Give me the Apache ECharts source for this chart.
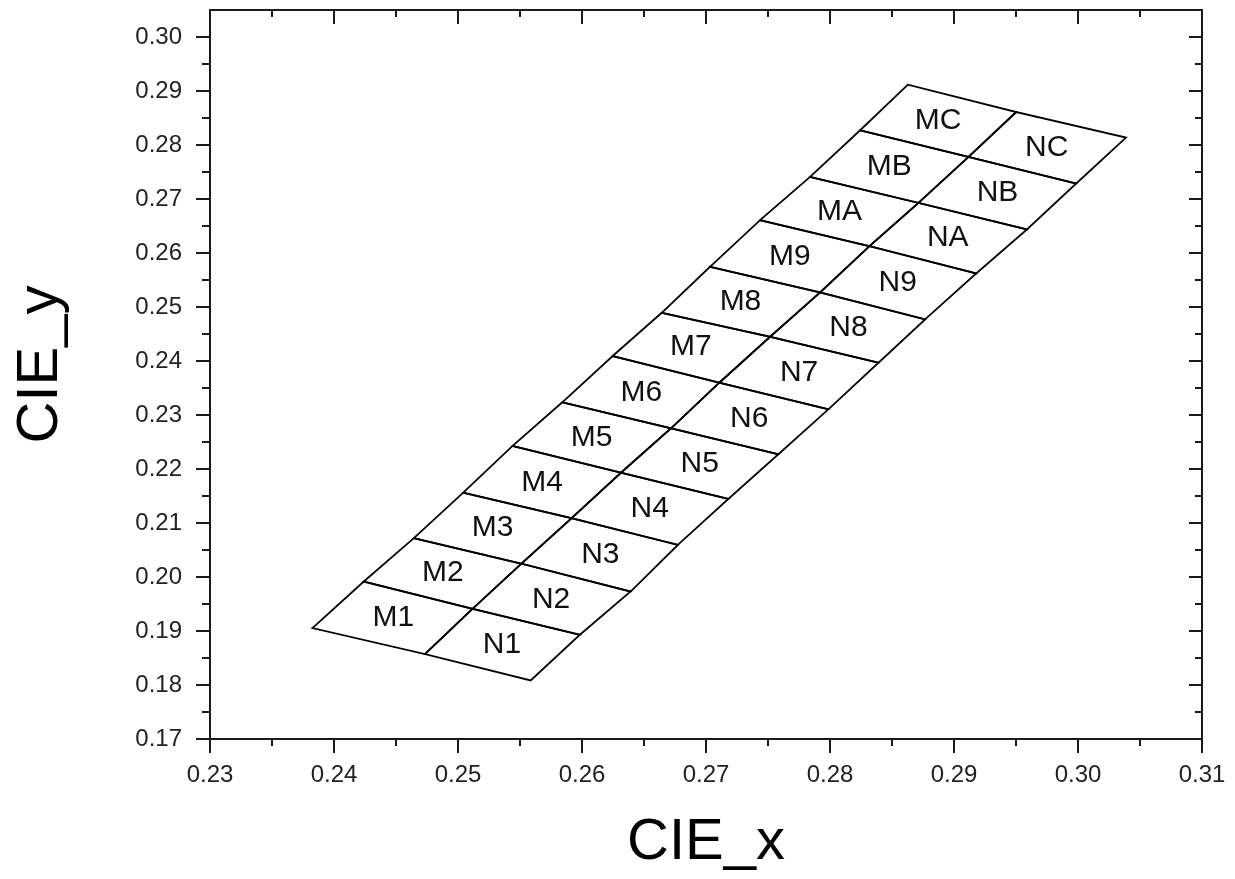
<!DOCTYPE html>
<html>
<head>
<meta charset="utf-8">
<script src="https://cdn.jsdelivr.net/npm/echarts@6/dist/echarts.min.js"></script>
<style>
    html, body { margin: 0; padding: 0; background: #fff; }
    #chart { width: 1235px; height: 879px; }
</style>
</head>
<body>
<div id="chart"></div>
<script>
// bin boundary points, bottom row to top row (13 per edge)
const leftX = [0.23826, 0.24240, 0.24644, 0.25042, 0.25440, 0.25841, 0.26247, 0.26643, 0.27032, 0.27436, 0.27839, 0.28243, 0.28628];
const leftY = [0.19054, 0.19916, 0.20719, 0.21562, 0.22427, 0.23235, 0.24092, 0.24893, 0.25744, 0.26608, 0.27409, 0.28273, 0.29118];
const midX = [0.24733, 0.25117, 0.25511, 0.25916, 0.26314, 0.26718, 0.27107, 0.27517, 0.27920, 0.28318, 0.28713, 0.29117, 0.29502];
const midY = [0.18573, 0.19411, 0.20247, 0.21089, 0.21931, 0.22754, 0.23598, 0.24449, 0.25270, 0.26127, 0.26928, 0.27779, 0.28611];
const rightX = [0.25586, 0.25983, 0.26392, 0.26773, 0.27180, 0.27584, 0.27987, 0.28391, 0.28767, 0.29179, 0.29588, 0.29986, 0.30387];
const rightY = [0.18084, 0.18930, 0.19731, 0.20595, 0.21446, 0.22273, 0.23105, 0.23968, 0.24771, 0.25622, 0.26436, 0.27287, 0.28138];

const mBins = ['M1', 'M2', 'M3', 'M4', 'M5', 'M6', 'M7', 'M8', 'M9', 'MA', 'MB', 'MC'];
const nBins = ['N1', 'N2', 'N3', 'N4', 'N5', 'N6', 'N7', 'N8', 'N9', 'NA', 'NB', 'NC'];

const yMajorTicks = [0.17, 0.18, 0.19, 0.20, 0.21, 0.22, 0.23, 0.24, 0.25, 0.26, 0.27, 0.28, 0.29, 0.30];
const yMinorTicks = [0.175, 0.185, 0.195, 0.205, 0.215, 0.225, 0.235, 0.245, 0.255, 0.265, 0.275, 0.285, 0.295];

const font = '"Liberation Sans", Arial, sans-serif';
const ink = '#1a1a1a';

const chart = echarts.init(document.getElementById('chart'), null, { renderer: 'canvas' });

function xAxisCfg(position, inside, showLabel) {
    return {
        type: 'value',
        position: position,
        min: 0.23,
        max: 0.31,
        interval: 0.01,
        name: showLabel ? 'CIE_x' : '',
        nameLocation: 'middle',
        nameGap: 75,
        nameTextStyle: { fontFamily: font, fontSize: 58, color: '#000' },
        axisLine: { show: true, onZero: false, lineStyle: { color: ink, width: 2 } },
        axisTick: { show: true, inside: inside, length: 14, lineStyle: { color: ink, width: 2 } },
        minorTick: { show: true, splitNumber: 2, length: 7, lineStyle: { color: ink, width: 2 } },
        axisLabel: {
            show: showLabel,
            margin: 24,
            fontFamily: font,
            fontSize: 24,
            color: '#222',
            formatter: v => v.toFixed(2)
        },
        splitLine: { show: false },
        minorSplitLine: { show: false }
    };
}

function yAxisCfg(position, ticks, len, inside, showLine, showLabel) {
    return {
        type: 'value',
        position: position,
        offset: 0,
        min: 0.17,
        max: 0.305,
        name: showLabel ? 'CIE_y' : '',
        nameLocation: 'middle',
        nameGap: 140,
        nameRotate: 90,
        nameTextStyle: { fontFamily: font, fontSize: 58, color: '#000', padding: [0, 0, 0, 20] },
        axisLine: { show: showLine, onZero: false, lineStyle: { color: ink, width: 2 } },
        axisTick: { show: true, inside: inside, length: len, customValues: ticks, lineStyle: { color: ink, width: 2 } },
        axisLabel: {
            show: showLabel,
            margin: 28,
            customValues: ticks,
            fontFamily: font,
            fontSize: 24,
            color: '#222',
            formatter: v => v.toFixed(2)
        },
        splitLine: { show: false }
    };
}

const cells = [];
for (let i = 0; i < mBins.length; i++) {
    cells.push([i, 0]);
    cells.push([i, 1]);
}

const option = {
    animation: false,
    backgroundColor: '#fff',
    grid: { left: 210, right: 33, top: 10, bottom: 140 },
    xAxis: [
        xAxisCfg('bottom', false, true),
        xAxisCfg('top', true, false)
    ],
    yAxis: [
        yAxisCfg('left', yMajorTicks, 14, false, true, true),
        yAxisCfg('left', yMinorTicks, 8, false, false, false),
        yAxisCfg('right', yMajorTicks, 13, true, true, false),
        yAxisCfg('right', yMinorTicks, 7, true, false, false)
    ],
    series: [{
        type: 'custom',
        xAxisIndex: 0,
        yAxisIndex: 0,
        data: cells,
        renderItem: (params, api) => {
            const row = api.value(0);
            const col = api.value(1);
            const ex = col === 0 ? [leftX, midX] : [midX, rightX];
            const ey = col === 0 ? [leftY, midY] : [midY, rightY];
            const pts = [
                api.coord([ex[0][row], ey[0][row]]),
                api.coord([ex[0][row + 1], ey[0][row + 1]]),
                api.coord([ex[1][row + 1], ey[1][row + 1]]),
                api.coord([ex[1][row], ey[1][row]])
            ];
            const cx = (pts[0][0] + pts[1][0] + pts[2][0] + pts[3][0]) / 4;
            const cy = (pts[0][1] + pts[1][1] + pts[2][1] + pts[3][1]) / 4;
            return {
                type: 'group',
                children: [
                    {
                        type: 'polygon',
                        shape: { points: pts },
                        style: { fill: 'none', stroke: '#000', lineWidth: 1.8 }
                    },
                    {
                        type: 'text',
                        x: cx,
                        y: cy,
                        style: {
                            text: col === 0 ? mBins[row] : nBins[row],
                            fontFamily: font,
                            fontSize: 30,
                            fill: '#111',
                            align: 'center',
                            verticalAlign: 'middle'
                        }
                    }
                ]
            };
        }
    }]
};

chart.setOption(option);
</script>
</body>
</html>
